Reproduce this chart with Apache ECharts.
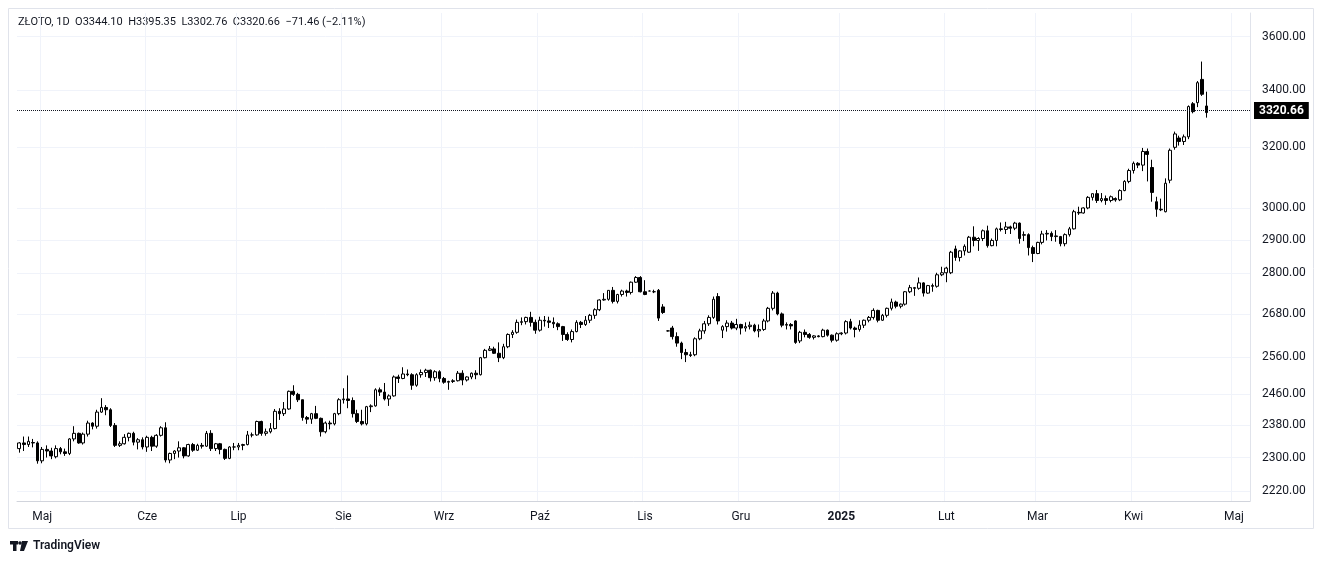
<!DOCTYPE html>
<html><head><meta charset="utf-8">
<script src="https://cdn.jsdelivr.net/npm/echarts@6/dist/echarts.min.js"></script>
<style>html,body{margin:0;padding:0;background:#fff}#c{width:1324px;height:564px}</style>
</head><body><div id="c"></div>
<script>
// [open, high, low, close] per trading day, from 2024-04-24 to 2025-04-23
const candles = [
[2322,2338,2312,2336],[2336,2352,2316,2332],[2332,2352,2326,2340],
[2337,2346,2325,2336],[2336,2340,2285,2292],[2292,2326,2286,2320],[2320,2330,2300,2316],[2316,2324,2296,2304],
[2302,2330,2298,2322],[2322,2326,2308,2314],[2314,2322,2304,2310],[2310,2348,2306,2346],[2346,2378,2340,2360],
[2360,2362,2334,2336],[2336,2362,2332,2358],[2358,2392,2352,2386],[2386,2388,2370,2378],[2378,2420,2372,2414],
[2414,2450,2412,2426],[2426,2432,2406,2420],[2420,2424,2376,2380],[2380,2386,2326,2330],[2330,2340,2326,2334],
[2334,2358,2332,2350],[2350,2362,2340,2360],[2360,2364,2330,2338],[2338,2348,2320,2344],[2344,2350,2320,2326],
[2326,2354,2314,2350],[2350,2354,2316,2328],[2328,2358,2324,2355],[2355,2378,2352,2374],[2374,2388,2288,2294],
[2294,2312,2286,2310],[2310,2318,2296,2316],[2316,2340,2300,2324],[2324,2326,2298,2304],[2304,2334,2302,2332],
[2332,2336,2314,2318],[2318,2334,2316,2330],[2330,2336,2322,2328],[2328,2366,2326,2360],[2360,2368,2316,2322],
[2322,2336,2316,2334],[2334,2336,2308,2320],[2320,2322,2294,2298],[2298,2328,2296,2326],[2326,2336,2318,2326],
[2326,2336,2318,2330],[2330,2334,2318,2332],[2332,2366,2330,2356],[2356,2362,2350,2356],[2356,2392,2354,2390],
[2390,2392,2354,2360],[2360,2372,2354,2364],[2364,2386,2360,2372],[2372,2422,2370,2416],[2416,2424,2394,2410],
[2410,2440,2404,2422],[2422,2470,2420,2468],[2468,2484,2456,2460],[2460,2464,2440,2446],[2446,2446,2392,2400],
[2400,2404,2384,2396],[2396,2412,2384,2410],[2410,2430,2396,2398],[2398,2400,2352,2364],[2364,2390,2360,2386],
[2386,2392,2370,2384],[2384,2412,2380,2410],[2410,2450,2406,2446],[2446,2476,2436,2448],[2448,2510,2424,2444],
[2444,2452,2400,2410],[2410,2420,2386,2390],[2390,2420,2380,2384],[2384,2430,2380,2428],[2428,2434,2414,2430],
[2430,2476,2428,2472],[2472,2478,2456,2466],[2466,2490,2444,2448],[2448,2460,2430,2456],[2456,2510,2454,2506],
[2506,2512,2490,2502],[2502,2532,2500,2514],[2514,2526,2508,2512],[2512,2516,2472,2484],[2484,2516,2480,2512],
[2512,2526,2504,2518],[2518,2528,2506,2524],[2524,2526,2494,2504],[2504,2524,2496,2520],[2520,2524,2492,2502],
[2502,2506,2488,2492],[2492,2496,2472,2494],[2494,2500,2490,2496],[2496,2522,2494,2516],[2516,2524,2484,2498],
[2498,2508,2494,2506],[2506,2518,2500,2516],[2516,2524,2500,2512],[2512,2560,2510,2558],[2558,2582,2556,2578],
[2578,2590,2576,2582],[2582,2588,2568,2570],[2570,2600,2546,2558],[2558,2596,2554,2588],[2588,2625,2584,2622],
[2622,2634,2612,2628],[2628,2664,2624,2656],[2656,2670,2648,2658],[2658,2672,2650,2670],[2670,2686,2644,2656],
[2656,2664,2624,2634],[2634,2672,2630,2662],[2662,2674,2644,2660],[2660,2672,2640,2656],[2656,2670,2640,2652],
[2652,2656,2634,2644],[2644,2646,2604,2622],[2622,2628,2604,2608],[2608,2636,2600,2630],[2630,2662,2628,2656],
[2656,2660,2640,2650],[2650,2674,2646,2662],[2662,2680,2654,2676],[2676,2696,2666,2692],[2692,2722,2688,2720],
[2720,2740,2718,2722],[2722,2748,2718,2748],[2748,2758,2710,2716],[2716,2738,2710,2736],[2736,2750,2730,2746],
[2746,2750,2730,2742],[2742,2774,2736,2772],[2772,2790,2770,2786],[2786,2790,2742,2744],[2744,2778,2734,2736],
[2746,2748,2746,2746],[2744,2750,2740,2744],[2748,2752,2660,2668],[2700,2708,2680,2684],[2632,2634,2630,2632],
[2640,2646,2608,2616],[2616,2628,2588,2598],[2598,2602,2554,2572],[2572,2582,2546,2566],[2566,2574,2560,2564],
[2566,2614,2562,2610],[2610,2638,2606,2632],[2632,2660,2624,2652],[2652,2676,2646,2670],[2670,2730,2666,2722],
[2730,2740,2650,2660],[2634,2648,2612,2644],[2644,2662,2630,2654],[2654,2660,2636,2640],[2640,2666,2634,2650],
[2650,2652,2622,2640],[2640,2656,2630,2644],[2644,2658,2636,2648],[2648,2652,2628,2632],[2632,2650,2614,2636],
[2636,2666,2632,2660],[2660,2700,2656,2696],[2696,2746,2690,2740],[2740,2744,2676,2680],[2680,2684,2642,2648],
[2648,2656,2636,2650],[2650,2654,2636,2646],[2660,2662,2596,2600],[2604,2632,2598,2628],[2628,2636,2614,2622],
[2622,2626,2610,2614],[2614,2620,2608,2618],[2618,2620,2614,2616],[2616,2638,2614,2634],[2634,2636,2616,2620],
[2620,2622,2600,2606],[2606,2628,2602,2624],[2624,2628,2620,2626],[2626,2662,2622,2658],[2658,2666,2636,2640],
[2640,2644,2614,2636],[2636,2662,2630,2648],[2648,2664,2640,2662],[2662,2674,2656,2670],[2670,2696,2664,2690],
[2690,2692,2656,2662],[2662,2680,2660,2676],[2676,2698,2670,2696],[2696,2724,2690,2714],[2714,2718,2696,2702],
[2702,2710,2696,2708],[2708,2746,2704,2744],[2744,2764,2740,2756],[2756,2758,2732,2754],[2754,2786,2750,2770],
[2770,2772,2730,2740],[2740,2764,2738,2762],[2762,2768,2744,2760],[2760,2800,2756,2794],[2794,2818,2790,2800],
[2800,2818,2772,2814],[2800,2866,2796,2862],[2872,2882,2836,2846],[2846,2868,2834,2866],[2866,2886,2852,2880],
[2862,2912,2860,2908],[2908,2942,2880,2898],[2898,2908,2866,2904],[2904,2932,2896,2928],[2928,2944,2876,2882],
[2882,2904,2880,2898],[2898,2938,2880,2934],[2934,2954,2926,2932],[2932,2956,2918,2940],[2940,2944,2918,2936],
[2936,2956,2930,2952],[2952,2954,2888,2904],[2914,2926,2896,2916],[2916,2920,2852,2876],[2876,2882,2832,2858],
[2858,2894,2856,2892],[2892,2928,2886,2918],[2918,2930,2898,2920],[2920,2926,2896,2910],[2910,2930,2894,2912],
[2910,2912,2880,2888],[2888,2920,2880,2916],[2916,2940,2910,2934],[2934,2994,2932,2988],[2986,3004,2978,2984],
[2984,3002,2982,3000],[3000,3038,2996,3034],[3034,3046,3024,3046],[3046,3058,3016,3024],[3024,3048,3018,3030],
[3030,3040,3010,3024],[3024,3040,3018,3036],[3030,3034,3020,3026],[3026,3060,3022,3056],[3056,3090,3054,3086],
[3086,3128,3080,3122],[3122,3152,3112,3146],[3146,3150,3130,3140],[3140,3198,3120,3186],[3186,3196,3086,3176],
[3132,3158,3020,3050],[3020,3036,2972,2996],[2996,3030,2990,2994],[2988,3096,2986,3080],[3090,3196,3080,3190],
[3200,3254,3192,3246],[3232,3240,3206,3220],[3220,3244,3208,3236],[3236,3346,3228,3342],[3352,3358,3318,3324],
[3356,3434,3340,3428],[3440,3506,3380,3386],[3344.10,3395.35,3302.76,3320.66]
];
const monthNames = ['Sty','Lut','Mar','Kwi','Maj','Cze','Lip','Sie','Wrz','Paź','Lis','Gru'];
const yTickLabels = [2220,2300,2380,2460,2560,2680,2800,2900,3000,3200,3400,3600];
const lastPrice = 3320.66;
const futureBars = 9;

const dates = [];
let d = new Date(Date.UTC(2024,3,24));
while (dates.length < candles.length + futureBars) {
  const wd = d.getUTCDay();
  if (wd !== 0 && wd !== 6) dates.push(new Date(d));
  d = new Date(d.getTime() + 86400000);
}
const cats = dates.map(x => x.toISOString().slice(0,10));
const labelIdx = new Set();
for (let i = 1; i < dates.length; i++) if (dates[i].getUTCMonth() !== dates[i-1].getUTCMonth()) labelIdx.add(i);
const ln = Math.log;
const data = candles.map(c => [ln(c[0]), ln(c[3]), ln(c[2]), ln(c[1])]);

const chart = echarts.init(document.getElementById('c'));
chart.setOption({
  animation: false,
  grid: {left: 17, right: 74, top: 13, bottom: 63},
  xAxis: {
    type: 'category', data: cats, boundaryGap: true,
    axisLine: {lineStyle: {color: '#d1d4dc'}}, axisTick: {show: false},
    axisLabel: {
      interval: (i) => labelIdx.has(i), color: '#131722', fontSize: 12, margin: 10,
      fontFamily: 'Roboto, sans-serif',
      formatter: (v) => { const m = +v.slice(5,7) - 1; return m === 0 ? '{b|' + v.slice(0,4) + '}' : monthNames[m]; },
      rich: {b: {fontWeight: 'bold', fontSize: 12, color: '#131722'}}
    },
    splitLine: {show: true, interval: (i) => labelIdx.has(i), lineStyle: {color: '#f0f3fa'}}
  },
  yAxis: {
    type: 'value', position: 'right', scale: true,
    min: ln(2196), max: ln(3692),
    axisLine: {show: true, lineStyle: {color: '#e0e3eb'}}, axisTick: {show: false, customValues: yTickLabels.map(ln)},
    axisLabel: {customValues: yTickLabels.map(ln), color: '#131722', fontSize: 12, margin: 12,
      fontFamily: 'Roboto, sans-serif',
      formatter: (v) => Math.exp(v).toFixed(2)},
    splitLine: {show: true, lineStyle: {color: '#f0f3fa'}}
  },
  series: [{
    type: 'candlestick', data: data, barWidth: 3.2,
    itemStyle: {color: '#ffffff', color0: '#000000', borderColor: '#000000', borderColor0: '#000000', borderWidth: 1},
    markLine: {
      symbol: 'none', silent: true, animation: false,
      lineStyle: {type: 'dotted', color: '#131722', width: 1},
      label: {position: 'end', formatter: lastPrice.toFixed(2), color: '#fff', backgroundColor: '#000',
        padding: [3,5,2,5], fontSize: 12, fontWeight: 'bold', fontFamily: 'Roboto, sans-serif', distance: 4},
      data: [{yAxis: ln(lastPrice)}]
    }
  }],
  graphic: [
    {type: 'rect', shape: {x: 8.5, y: 8.5, width: 1305, height: 520}, style: {fill: 'none', stroke: '#e0e3eb'}},
    {type: 'text', left: 18, top: 17, style: {text: 'ZŁOTO, 1D  O3344.10  H3395.35  L3302.76  C3320.66  −71.46 (−2.11%)', fill: '#131722', font: '11px Roboto, sans-serif'}},
    {type: 'rect', shape: {x: 10, y: 541, width: 8, height: 3.5}, style: {fill: '#131722'}},
    {type: 'rect', shape: {x: 13, y: 541, width: 3.5, height: 10}, style: {fill: '#131722'}},
    {type: 'circle', shape: {cx: 20, cy: 543, r: 1.8}, style: {fill: '#131722'}},
    {type: 'polygon', shape: {points: [[22,541],[28,541],[24,551],[20,551]]}, style: {fill: '#131722'}},
    {type: 'text', left: 33, top: 540, style: {text: 'TradingView', fill: '#131722', font: '600 12px Roboto, sans-serif'}}
  ]
});
</script></body></html>
